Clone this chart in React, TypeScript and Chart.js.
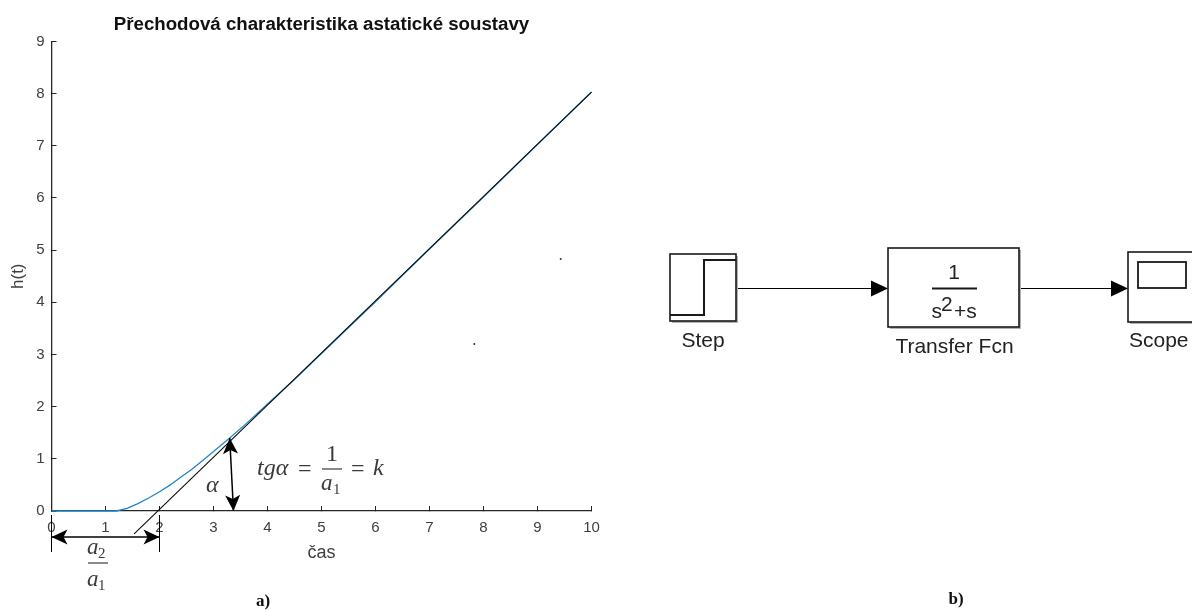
import React, { useEffect, useRef } from "react";
import { Chart, registerables } from "chart.js";

Chart.register(...registerables);

const titleText = "Přechodová charakteristika astatické soustavy";
const xLabel = "čas";
const yLabel = "h(t)";

const responseTime = [0, 0.5, 1, 1.2, 1.4, 1.6, 1.8, 2, 2.2, 2.4, 2.6, 2.8, 3, 3.3, 3.6, 4, 4.5, 5, 6, 7, 8, 9, 10];
const responseValue = [0, 0, 0, 0, 0.05, 0.14, 0.25, 0.37, 0.5, 0.65, 0.8, 0.97, 1.14, 1.4, 1.67, 2.05, 2.52, 3.02, 4.01, 5.02, 6.02, 7.03, 8.03];
const tangentTime = [1.53, 10];
const tangentValue = [-0.44, 8.03];
const speckTime = [7.83, 9.43];
const speckValue = [3.2, 4.83];

const SANS = '"Liberation Sans", Arial, sans-serif';
const SERIF = '"Liberation Serif", serif';
const INK = "#111111";
const TICK = "#404040";

function arrowHead(ctx: CanvasRenderingContext2D, fromX: number, fromY: number, x: number, y: number, len = 16, half = 7.5) {
  const a = Math.atan2(y - fromY, x - fromX);
  const c = Math.cos(a), s = Math.sin(a);
  ctx.fillStyle = "#000";
  ctx.beginPath();
  ctx.moveTo(x, y);
  ctx.lineTo(x - len * c - half * s, y - len * s + half * c);
  ctx.lineTo(x - len * 0.75 * c, y - len * 0.75 * s);
  ctx.lineTo(x - len * c + half * s, y - len * s - half * c);
  ctx.closePath();
  ctx.fill();
}

function line(ctx: CanvasRenderingContext2D, x0: number, y0: number, x1: number, y1: number, w = 1) {
  ctx.lineWidth = w;
  ctx.beginPath();
  ctx.moveTo(x0, y0);
  ctx.lineTo(x1, y1);
  ctx.stroke();
}

function text(ctx: CanvasRenderingContext2D, s: string, x: number, y: number, font: string, color = INK, align: CanvasTextAlign = "left") {
  ctx.font = font;
  ctx.fillStyle = color;
  ctx.textAlign = align;
  ctx.textBaseline = "alphabetic";
  ctx.fillText(s, x, y);
}

const annotations = {
  id: "annotations",
  afterDraw(chart: any) {
    const { ctx, scales } = chart;
    const X = (v: number) => scales.x.getPixelForValue(v);
    const Y = (v: number) => scales.y.getPixelForValue(v);
    ctx.save();
    ctx.strokeStyle = "#000";

    // slope arrow
    const ax0 = X(3.3), ay0 = Y(1.4), ax1 = X(3.37), ay1 = Y(0);
    line(ctx, ax0, ay0, ax1, ay1, 1.5);
    arrowHead(ctx, ax1, ay1, ax0, ay0);
    arrowHead(ctx, ax0, ay0, ax1, ay1);

    // a2/a1 dimension
    const dimY = 537;
    line(ctx, X(0), 515, X(0), 552, 1);
    line(ctx, X(2), 515, X(2), 552, 1);
    line(ctx, X(0), dimY, X(2), dimY, 1.5);
    arrowHead(ctx, X(2), dimY, X(0), dimY);
    arrowHead(ctx, X(0), dimY, X(2), dimY);

    const mathColor = "#3a3a3a";
    const it = (n: number) => `italic ${n}px ${SERIF}`;
    const rm = (n: number) => `${n}px ${SERIF}`;
    text(ctx, "a", 87, 554, it(23), mathColor);
    text(ctx, "2", 98, 558, rm(15), mathColor);
    ctx.strokeStyle = mathColor;
    line(ctx, 88, 563, 108, 563, 1.2);
    text(ctx, "a", 87, 586, it(23), mathColor);
    text(ctx, "1", 98, 590, rm(15), mathColor);

    text(ctx, "α", 206, 492, it(24), mathColor);
    text(ctx, "tgα", 257, 475, it(24), mathColor);
    text(ctx, "=", 298, 476, rm(24), mathColor);
    text(ctx, "1", 332, 461, rm(24), mathColor, "center");
    line(ctx, 322, 469, 342, 469, 1.2);
    text(ctx, "a", 321, 490, it(23), mathColor);
    text(ctx, "1", 333, 494, rm(15), mathColor);
    text(ctx, "=", 351, 476, rm(24), mathColor);
    text(ctx, "k", 373, 475, it(24), mathColor);

    text(ctx, "a)", 263, 606, `bold 17px ${SERIF}`, "#111", "center");
    text(ctx, "b)", 956, 604, `bold 17px ${SERIF}`, "#111", "center");

    // Simulink model
    ctx.strokeStyle = "#1a1a1a";
    const block = (l: number, t: number, r: number, b: number) => {
      ctx.fillStyle = "rgba(0,0,0,0.3)";
      ctx.fillRect(l + 2, t + 2, r - l, b - t);
      ctx.fillStyle = "#fff";
      ctx.fillRect(l, t, r - l, b - t);
      ctx.lineWidth = 1.6;
      ctx.strokeRect(l, t, r - l, b - t);
    };
    block(670, 254, 736, 321);
    line(ctx, 670, 315, 704, 315, 2);
    line(ctx, 704, 316, 704, 259, 2);
    line(ctx, 703, 260, 736, 260, 2);
    block(888, 248, 1019, 327);
    block(1128, 252, 1200, 322);
    ctx.lineWidth = 1.8;
    ctx.strokeRect(1138, 262, 48, 26);

    ctx.strokeStyle = "#000";
    line(ctx, 738, 288.5, 875, 288.5, 1.2);
    line(ctx, 1021, 288.5, 1115, 288.5, 1.2);
    const tri = (tip: number) => {
      ctx.fillStyle = "#000";
      ctx.beginPath();
      ctx.moveTo(tip, 288.5);
      ctx.lineTo(tip - 17, 280.5);
      ctx.lineTo(tip - 17, 296.5);
      ctx.closePath();
      ctx.fill();
    };
    tri(888);
    tri(1128);

    ctx.strokeStyle = "#1a1a1a";
    const blockFont = `21px ${SANS}`;
    text(ctx, "1", 954, 279, blockFont, "#222", "center");
    line(ctx, 932, 288.5, 977, 288.5, 1.8);
    text(ctx, "s", 931.5, 318, blockFont, "#222");
    text(ctx, "2", 941, 311, blockFont, "#222");
    text(ctx, "+s", 954, 318, blockFont, "#222");
    text(ctx, "Step", 703, 347, blockFont, "#222", "center");
    text(ctx, "Transfer Fcn", 954.5, 353, blockFont, "#222", "center");
    text(ctx, "Scope", 1129, 347, blockFont, "#222");
    ctx.restore();
  },
};

export default function App() {
  const ref = useRef<HTMLCanvasElement>(null);
  useEffect(() => {
    const toPts = (xs: number[], ys: number[]) => xs.map((x, i) => ({ x, y: ys[i] }));
    const tickFont = { family: SANS, size: 15 };
    const chart = new Chart(ref.current!, {
      type: "scatter",
      plugins: [annotations],
      data: {
        datasets: [
          {
            data: toPts(tangentTime, tangentValue),
            showLine: true,
            borderColor: "#0a0a0a",
            borderWidth: 1.1,
            pointRadius: 0,
            clip: false,
          },
          {
            data: toPts(responseTime, responseValue),
            showLine: true,
            borderColor: "#1f86c8",
            borderWidth: 1.3,
            pointRadius: 0,
            tension: 0,
            clip: false,
          },
          {
            data: toPts(speckTime, speckValue),
            showLine: false,
            pointRadius: 1,
            pointBorderWidth: 0,
            backgroundColor: "#333333",
            clip: false,
          },
        ],
      } as any,
      options: {
        responsive: false,
        animation: false,
        layout: { padding: { left: 0, right: 600.5, top: 8, bottom: 0 } },
        plugins: {
          legend: { display: false },
          tooltip: { enabled: false },
          title: {
            display: true,
            text: titleText,
            fullSize: false,
            color: "#111111",
            font: { family: SANS, size: 18.7, weight: "bold", lineHeight: 1.2 },
            padding: { top: 6, bottom: 5 },
          },
        },
        scales: {
          x: {
            type: "linear",
            min: 0,
            max: 10,
            afterFit: (s: any) => { s.height = 99; },
            ticks: { stepSize: 1, color: TICK, font: tickFont, padding: 13, maxRotation: 0 },
            grid: { drawOnChartArea: false, tickLength: -5, color: "#262626" },
            border: { color: "#262626", width: 1.3 },
            title: { display: true, text: xLabel, color: TICK, font: { family: SANS, size: 18 }, padding: { top: 0, bottom: 46 } },
          },
          y: {
            type: "linear",
            min: 0,
            max: 9,
            afterFit: (s: any) => { s.width = 51.5; },
            ticks: { stepSize: 1, color: TICK, font: tickFont, padding: 12 },
            grid: { drawOnChartArea: false, tickLength: -5, color: "#262626" },
            border: { color: "#262626", width: 1.3 },
            title: { display: true, text: yLabel, color: TICK, font: { family: SANS, size: 17 }, padding: { top: 8, bottom: 0 } },
          },
        },
      } as any,
    });
    return () => chart.destroy();
  }, []);
  return (
    <div style={{ position: "absolute", left: 0, top: 0, width: 1192, height: 610, overflow: "hidden", background: "#fff" }}>
      <canvas ref={ref} width={1192} height={610} style={{ display: "block", filter: "blur(0.4px)" }} />
    </div>
  );
}
